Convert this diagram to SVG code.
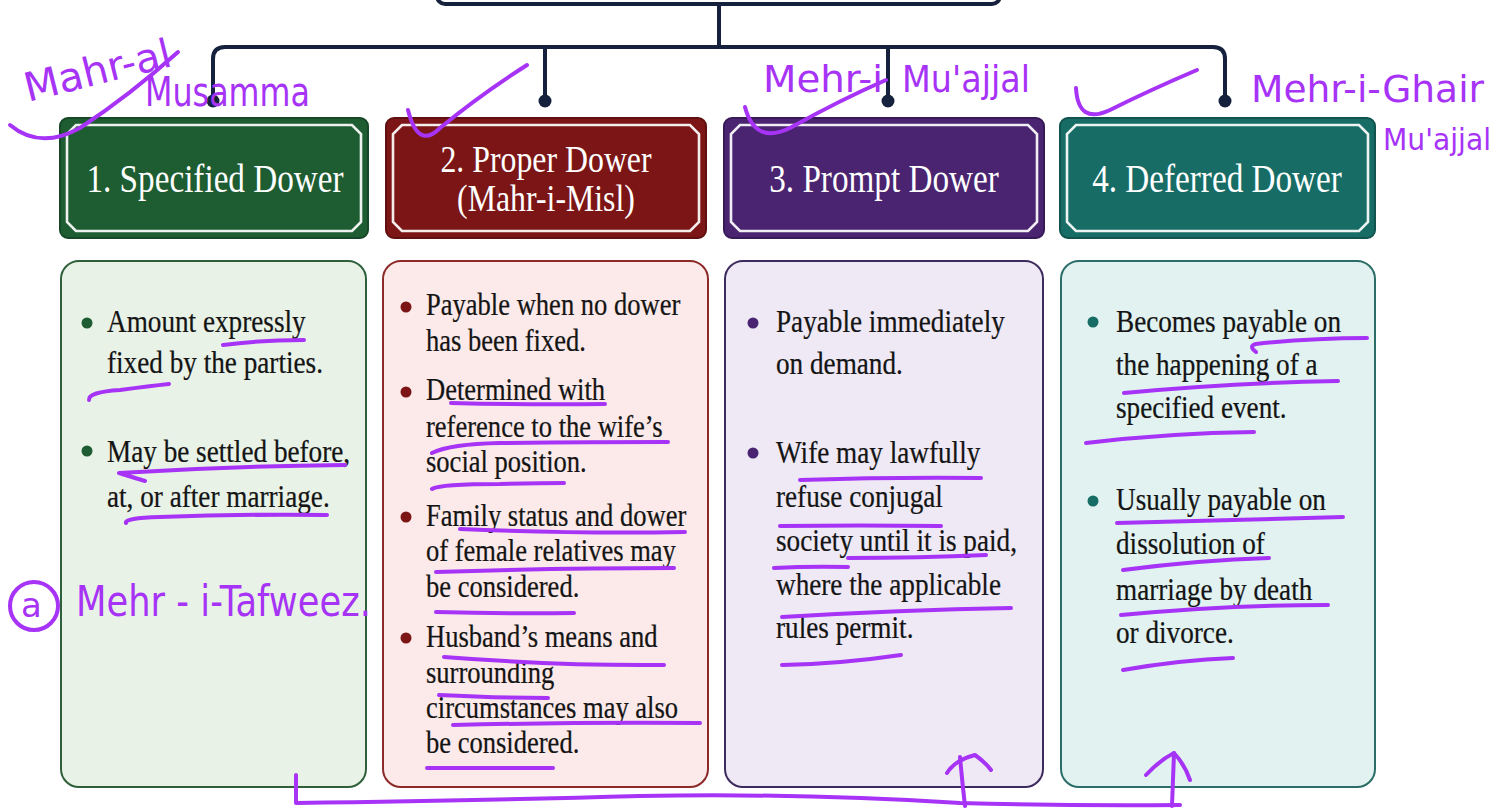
<svg xmlns="http://www.w3.org/2000/svg" width="1503" height="810" viewBox="0 0 1503 810">
  <style>
    .wire { fill: none; stroke: #15213d; stroke-width: 4; stroke-linecap: round; stroke-linejoin: round; }
    .dot { fill: #15213d; }
    .inner { fill: none; stroke: #ffffff; stroke-width: 2.6; opacity: 0.92; }
    .head { font-family: "Liberation Serif", "DejaVu Serif", serif; font-size: 40px; fill: #ffffff; text-anchor: middle; }
    .head2 { font-size: 37px; }
    .body { font-family: "Liberation Serif", "DejaVu Serif", serif; font-size: 32px; fill: #141414; stroke: #141414; stroke-width: 0.25; }
    .ink { fill: none; stroke: #a633f5; stroke-width: 4; stroke-linecap: round; stroke-linejoin: round; }
    .hand { font-family: "DejaVu Sans", "Liberation Sans", sans-serif; fill: #a633f5; }
  </style>

  <rect width="1503" height="810" fill="#ffffff"/>

  <!-- connectors: root box edge, bus and drops -->
  <g id="connectors">
    <rect x="437" y="-30" width="563" height="34" rx="8" fill="#ffffff" stroke="#15213d" stroke-width="4"/>
    <path class="wire" d="M719,4 V47"/>
    <path class="wire" d="M213,100 V59 Q213,47 225,47 H1213 Q1225,47 1225,59 V100"/>
    <path class="wire" d="M545,47 V100"/>
    <path class="wire" d="M888,47 V100"/>
    <circle class="dot" cx="213" cy="101" r="6.5"/>
    <circle class="dot" cx="545" cy="101" r="6.5"/>
    <circle class="dot" cx="888" cy="101" r="6.5"/>
    <circle class="dot" cx="1225" cy="101" r="6.5"/>
  </g>

  <!-- 1. Specified Dower -->
  <g id="specified">
    <rect x="60" y="118" width="308" height="120" rx="8" fill="#1e5c31" stroke="#164726" stroke-width="2"/>
    <path class="inner" d="M76,125 H352 L361,134 V222 L352,231 H76 L67,222 V134 Z"/>
    <text class="head" transform="translate(215,192) scale(0.83,1)">1. Specified Dower</text>
    <rect x="61" y="261" width="305" height="526" rx="18" fill="#e9f2e7" stroke="#2f5f3b" stroke-width="2"/>
    <circle cx="87" cy="323" r="5.5" fill="#1e5c31"/>
    <circle cx="87" cy="451" r="5.5" fill="#1e5c31"/>
    <g class="body" transform="translate(107,0) scale(0.85,1)">
      <text x="0" y="332">Amount expressly</text>
      <text x="0" y="373">fixed by the parties.</text>
      <text x="0" y="462">May be settled before,</text>
      <text x="0" y="507">at, or after marriage.</text>
    </g>
  </g>

  <!-- 2. Proper Dower -->
  <g id="proper">
    <rect x="386" y="118" width="320" height="120" rx="8" fill="#7c1616" stroke="#601010" stroke-width="2"/>
    <path class="inner" d="M402,125 H690 L699,134 V222 L690,231 H402 L393,222 V134 Z"/>
    <text class="head head2" transform="translate(546,172) scale(0.86,1)">2. Proper Dower</text>
    <text class="head head2" transform="translate(546,211) scale(0.86,1)">(Mahr-i-Misl)</text>
    <rect x="383" y="261" width="325" height="526" rx="18" fill="#fbeae9" stroke="#8c2a2a" stroke-width="2"/>
    <circle cx="406" cy="307" r="5.5" fill="#7c1616"/>
    <circle cx="406" cy="392" r="5.5" fill="#7c1616"/>
    <circle cx="406" cy="517" r="5.5" fill="#7c1616"/>
    <circle cx="406" cy="638" r="5.5" fill="#7c1616"/>
    <g class="body" transform="translate(426,0) scale(0.83,1)">
      <text x="0" y="315">Payable when no dower</text>
      <text x="0" y="351">has been fixed.</text>
      <text x="0" y="400">Determined with</text>
      <text x="0" y="437">reference to the wife’s</text>
      <text x="0" y="472">social position.</text>
      <text x="0" y="526">Family status and dower</text>
      <text x="0" y="561">of female relatives may</text>
      <text x="0" y="597">be considered.</text>
      <text x="0" y="647">Husband’s means and</text>
      <text x="0" y="683">surrounding</text>
      <text x="0" y="718">circumstances may also</text>
      <text x="0" y="753">be considered.</text>
    </g>
  </g>

  <!-- 3. Prompt Dower -->
  <g id="prompt">
    <rect x="724" y="118" width="320" height="120" rx="8" fill="#4a2470" stroke="#381a58" stroke-width="2"/>
    <path class="inner" d="M740,125 H1028 L1037,134 V222 L1028,231 H740 L731,222 V134 Z"/>
    <text class="head" transform="translate(884,192) scale(0.83,1)">3. Prompt Dower</text>
    <rect x="725" y="261" width="318" height="526" rx="18" fill="#efe9f5" stroke="#3e2b5e" stroke-width="2"/>
    <circle cx="753" cy="323" r="5.5" fill="#4a2470"/>
    <circle cx="753" cy="453" r="5.5" fill="#4a2470"/>
    <g class="body" transform="translate(776,0) scale(0.85,1)">
      <text x="0" y="332">Payable immediately</text>
      <text x="0" y="374">on demand.</text>
      <text x="0" y="463">Wife may lawfully</text>
      <text x="0" y="507">refuse conjugal</text>
      <text x="0" y="551">society until it is paid,</text>
      <text x="0" y="595">where the applicable</text>
      <text x="0" y="638">rules permit.</text>
    </g>
  </g>

  <!-- 4. Deferred Dower -->
  <g id="deferred">
    <rect x="1060" y="118" width="315" height="120" rx="8" fill="#176d66" stroke="#11544f" stroke-width="2"/>
    <path class="inner" d="M1076,125 H1359 L1368,134 V222 L1359,231 H1076 L1067,222 V134 Z"/>
    <text class="head" transform="translate(1217,192) scale(0.83,1)">4. Deferred Dower</text>
    <rect x="1061" y="261" width="314" height="526" rx="18" fill="#e1f2f1" stroke="#2b6e68" stroke-width="2"/>
    <circle cx="1093" cy="322" r="5.5" fill="#176d66"/>
    <circle cx="1093" cy="501" r="5.5" fill="#176d66"/>
    <g class="body" transform="translate(1116,0) scale(0.85,1)">
      <text x="0" y="332">Becomes payable on</text>
      <text x="0" y="375">the happening of a</text>
      <text x="0" y="418">specified event.</text>
      <text x="0" y="510">Usually payable on</text>
      <text x="0" y="554">dissolution of</text>
      <text x="0" y="600">marriage by death</text>
      <text x="0" y="643">or divorce.</text>
    </g>
  </g>

  <!-- handwritten notes -->
  <g id="notes">
    <text class="hand" font-size="40" transform="translate(28,102) rotate(-14)" textLength="150" lengthAdjust="spacingAndGlyphs">Mahr-al</text>
    <text class="hand" font-size="40" x="145" y="106" textLength="165" lengthAdjust="spacingAndGlyphs">Musamma</text>
    <text class="hand" font-size="38" x="763" y="92" textLength="120" lengthAdjust="spacingAndGlyphs">Mehr-i</text>
    <text class="hand" font-size="38" x="902" y="92" textLength="128" lengthAdjust="spacingAndGlyphs">Mu'ajjal</text>
    <text class="hand" font-size="38" x="1251" y="102" textLength="233" lengthAdjust="spacingAndGlyphs">Mehr-i-Ghair</text>
    <text class="hand" font-size="30" x="1383" y="150" textLength="108" lengthAdjust="spacingAndGlyphs">Mu'ajjal</text>
    <circle class="ink" cx="34" cy="606" r="24"/>
    <text class="hand" font-size="34" x="21" y="617">a</text>
    <text class="hand" font-size="42" x="76" y="616" textLength="295" lengthAdjust="spacingAndGlyphs">Mehr - i-Tafweez.</text>

    <!-- ticks near the headers -->
    <path class="ink" d="M10,125 Q40,150 80,128 Q130,95 178,52"/>
    <path class="ink" d="M408,110 Q418,150 440,128 Q480,95 527,65"/>
    <path class="ink" d="M745,107 Q755,145 790,128 Q840,100 886,80"/>
    <path class="ink" d="M1076,88 Q1078,125 1110,110 Q1150,90 1197,70"/>

    <!-- underlines, column 1 -->
    <path class="ink" d="M223,345 Q260,340 304,340"/>
    <path class="ink" d="M89,400 Q88,392 120,390 Q150,386 169,384"/>
    <path class="ink" d="M145,481 Q125,475 119,473 Q230,466 345,465"/>
    <path class="ink" d="M126,523 Q124,518 160,517 Q240,514 327,515"/>
    <!-- column 2 -->
    <path class="ink" d="M451,403 Q530,405 605,404"/>
    <path class="ink" d="M432,453 Q450,444 500,443 Q590,442 668,442"/>
    <path class="ink" d="M432,489 Q440,484 500,484 Q540,483 564,483"/>
    <path class="ink" d="M460,529 Q580,534 685,532"/>
    <path class="ink" d="M436,572 Q560,568 674,568"/>
    <path class="ink" d="M436,612 Q510,614 574,613"/>
    <path class="ink" d="M444,657 Q560,666 664,665"/>
    <path class="ink" d="M439,695 Q500,698 548,698"/>
    <path class="ink" d="M453,725 Q580,722 700,723"/>
    <path class="ink" d="M427,768 Q490,768 553,768"/>
    <!-- column 3 -->
    <path class="ink" d="M800,480 Q890,477 981,478"/>
    <path class="ink" d="M780,526 Q860,525 941,526"/>
    <path class="ink" d="M774,568 Q810,566 848,567"/>
    <path class="ink" d="M848,558 Q920,558 986,555"/>
    <path class="ink" d="M782,617 Q900,610 1011,608"/>
    <path class="ink" d="M782,665 Q840,664 901,655"/>
    <!-- column 4 -->
    <path class="ink" d="M1256,352 Q1248,346 1256,344 Q1310,338 1367,338"/>
    <path class="ink" d="M1124,393 Q1230,383 1338,381"/>
    <path class="ink" d="M1086,443 Q1170,433 1254,432"/>
    <path class="ink" d="M1117,523 Q1230,520 1343,517"/>
    <path class="ink" d="M1123,570 Q1200,560 1269,558"/>
    <path class="ink" d="M1121,615 Q1230,605 1328,605"/>
    <path class="ink" d="M1123,670 Q1180,660 1233,658"/>

    <!-- bracket and arrows along the bottom -->
    <path class="ink" d="M296,775 V803 Q500,800 640,796 Q800,793 960,803 Q1070,806 1180,805"/>
    <path class="ink" d="M965,806 Q962,780 960,757"/>
    <path class="ink" d="M947,773 Q955,760 975,755 Q985,762 991,770"/>
    <path class="ink" d="M1172,806 Q1173,780 1174,753"/>
    <path class="ink" d="M1146,775 Q1160,760 1174,753 Q1185,765 1190,780"/>
  </g>
</svg>
